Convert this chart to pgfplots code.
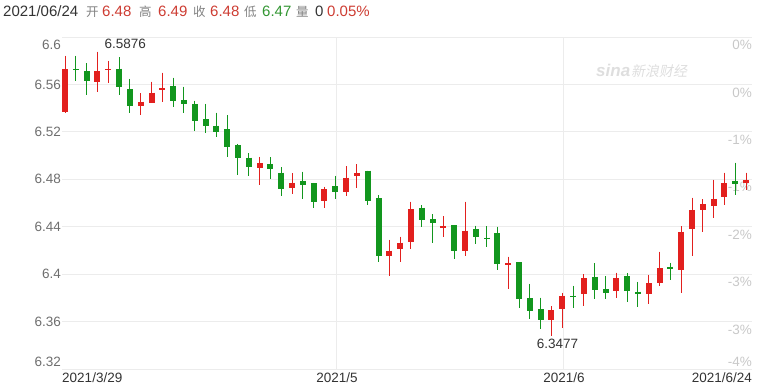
\documentclass[border=0pt]{standalone}
\usepackage{fontspec}
\setmainfont{Liberation Sans}
\newfontfamily\cjk{Noto Sans CJK SC}
\newfontfamily\cjkslant[FakeSlant=0.2]{Noto Sans CJK SC}
\usepackage{pgfplots}
\pgfplotsset{compat=1.18}
\usepackage{pgfplotstable}

\definecolor{upred}{RGB}{226,32,30}
\definecolor{downgreen}{RGB}{18,150,30}
\definecolor{gridgray}{RGB}{236,236,236}
\definecolor{ticktext}{RGB}{110,110,110}
\definecolor{pcttext}{RGB}{200,200,200}
\definecolor{datetext}{RGB}{51,51,51}
\definecolor{hdrred}{RGB}{205,60,50}
\definecolor{hdrgreen}{RGB}{50,150,50}
\definecolor{hdrlabel}{RGB}{130,130,130}
\definecolor{wmark}{RGB}{222,222,222}

% USD/CNY daily candles, 2021-03-29 .. 2021-06-24 (index = weekday number)
% rising days (close > open)
\pgfplotstableread{
i  o      h      l      c
0  6.5370 6.5840 6.5360 6.5730
3  6.5623 6.5876 6.5533 6.5713
4  6.5720 6.5798 6.5615 6.5730
7  6.5418 6.5525 6.5340 6.5454
8  6.5446 6.5623 6.5441 6.5530
9  6.5553 6.5699 6.5454 6.5567
18 6.4898 6.4990 6.4752 6.4935
21 6.4724 6.4850 6.4676 6.4771
24 6.4619 6.4737 6.4560 6.4718
26 6.4690 6.4912 6.4659 6.4813
27 6.4830 6.4926 6.4729 6.4850
30 6.4153 6.4288 6.3984 6.4198
31 6.4210 6.4316 6.4105 6.4265
32 6.4274 6.4611 6.4210 6.4549
35 6.4387 6.4490 6.4311 6.4406
37 6.4195 6.4611 6.4153 6.4366
41 6.4077 6.4147 6.3875 6.4091
45 6.3613 6.3731 6.3477 6.3698
46 6.3703 6.3843 6.3548 6.3818
48 6.3830 6.3999 6.3734 6.3965
51 6.3858 6.4012 6.3801 6.3965
54 6.3833 6.3993 6.3748 6.3923
55 6.3928 6.4189 6.3900 6.4049
57 6.4035 6.4406 6.3843 6.4358
58 6.4378 6.4645 6.4156 6.4541
59 6.4541 6.4631 6.4358 6.4589
60 6.4575 6.4794 6.4471 6.4634
61 6.4653 6.4856 6.4583 6.4766
63 6.4770 6.4856 6.4710 6.4792
}\upcandles

% falling days (close < open)
\pgfplotstableread{
i  o      h      l      c
1  6.5730 6.5840 6.5630 6.5720
2  6.5713 6.5778 6.5511 6.5631
5  6.5733 6.5829 6.5511 6.5576
6  6.5559 6.5646 6.5356 6.5418
10 6.5587 6.5657 6.5412 6.5460
11 6.5469 6.5581 6.5362 6.5432
12 6.5432 6.5463 6.5210 6.5294
13 6.5306 6.5435 6.5188 6.5249
14 6.5252 6.5362 6.5154 6.5199
15 6.5224 6.5340 6.4985 6.5070
16 6.5089 6.5098 6.4836 6.4977
17 6.4982 6.5019 6.4828 6.4906
19 6.4929 6.4985 6.4800 6.4887
20 6.4856 6.4901 6.4659 6.4716
22 6.4786 6.4864 6.4631 6.4749
23 6.4766 6.4770 6.4560 6.4611
25 6.4743 6.4828 6.4631 6.4690
28 6.4872 6.4874 6.4583 6.4617
29 6.4640 6.4667 6.4105 6.4153
33 6.4560 6.4583 6.4395 6.4457
34 6.4463 6.4507 6.4265 6.4429
36 6.4414 6.4414 6.4125 6.4195
38 6.4378 6.4409 6.4254 6.4316
39 6.4307 6.4406 6.4226 6.4296
40 6.4344 6.4400 6.4035 6.4083
42 6.4100 6.4100 6.3712 6.3790
43 6.3796 6.3917 6.3622 6.3689
44 6.3706 6.3801 6.3537 6.3613
47 6.3818 6.3900 6.3717 6.3807
49 6.3978 6.4091 6.3790 6.3866
50 6.3875 6.3984 6.3790 6.3838
52 6.3984 6.4007 6.3768 6.3858
53 6.3852 6.3934 6.3726 6.3833
56 6.4063 6.4096 6.3950 6.4041
62 6.4786 6.4940 6.4667 6.4760
}\downcandles

\tikzset{
  lbl/.style={inner sep=0pt, font=\fontsize{13.5bp}{16bp}\selectfont},
  hdr/.style={inner sep=0pt, anchor=base west, font=\fontsize{15bp}{18bp}\selectfont},
  hdrcn/.style={inner sep=0pt, anchor=base west, text=hdrlabel, font=\cjk\fontsize{12.5bp}{15bp}\selectfont},
}

% one stroke per candle: a vertical error bar with no marks at either end
\pgfplotsset{
  candle/.style={only marks, mark=*, mark size=0pt,
    mark options={draw=none, fill=none},
    error bars/.cd, y dir=minus, y explicit, error mark=none,
    error bar style={line width=#1, line cap=butt}},
}

\begin{document}
\begin{tikzpicture}
\useasboundingbox (0,0) rectangle (760bp,385bp);

% quote header
\node[hdr, text=datetext] at (3bp,368bp) {2021/06/24};
\node[hdrcn] at (86bp,368bp) {开};
\node[hdr, text=hdrred] at (102bp,368bp) {6.48};
\node[hdrcn] at (139bp,368bp) {高};
\node[hdr, text=hdrred] at (158bp,368bp) {6.49};
\node[hdrcn] at (193bp,368bp) {收};
\node[hdr, text=hdrred] at (210bp,368bp) {6.48};
\node[hdrcn] at (244bp,368bp) {低};
\node[hdr, text=hdrgreen] at (262bp,368bp) {6.47};
\node[hdrcn] at (296bp,368bp) {量};
\node[hdr, text=datetext] at (315bp,368bp) {0};
\node[hdr, text=hdrred] at (327bp,368bp) {0.05\%};

% watermark
\node[anchor=west, inner sep=0pt, text=wmark] at (596bp,314bp)
  {{\fontsize{17bp}{17bp}\selectfont\bfseries\itshape sina}\hspace{1bp}{\cjkslant\fontsize{14bp}{14bp}\selectfont 新浪财经}};

\begin{axis}[
  at={(62bp,16bp)}, anchor=south west,
  width=690bp, height=332bp, scale only axis,
  xmin=-0.28, xmax=63.55, ymin=6.32, ymax=6.60,
  axis line style={draw=none},
  major tick length=0pt,
  xtick={25.15,46.15}, xticklabels={},
  ytick={6.32,6.36,6.40,6.44,6.48,6.52,6.56,6.60}, yticklabels={},
  grid=major, major grid style={gridgray, line width=0.9bp},
  clip=false,
]

% price axis (left)
\node[lbl, anchor=east, text=ticktext] at (axis cs:-0.28,6.60) [xshift=-1bp, yshift=-8bp] {6.6};
\node[lbl, anchor=east, text=ticktext] at (axis cs:-0.28,6.56) [xshift=-1bp] {6.56};
\node[lbl, anchor=east, text=ticktext] at (axis cs:-0.28,6.52) [xshift=-1bp] {6.52};
\node[lbl, anchor=east, text=ticktext] at (axis cs:-0.28,6.48) [xshift=-1bp] {6.48};
\node[lbl, anchor=east, text=ticktext] at (axis cs:-0.28,6.44) [xshift=-1bp] {6.44};
\node[lbl, anchor=east, text=ticktext] at (axis cs:-0.28,6.40) [xshift=-1bp] {6.4};
\node[lbl, anchor=east, text=ticktext] at (axis cs:-0.28,6.36) [xshift=-1bp] {6.36};
\node[lbl, anchor=east, text=ticktext] at (axis cs:-0.28,6.32) [xshift=-1bp, yshift=7bp] {6.32};

% change axis (right)
\node[lbl, anchor=east, text=pcttext] at (axis cs:63.55,6.60) [yshift=-8bp] {0\%};
\node[lbl, anchor=east, text=pcttext] at (axis cs:63.55,6.56) [yshift=-8bp] {0\%};
\node[lbl, anchor=east, text=pcttext] at (axis cs:63.55,6.52) [yshift=-8bp] {-1\%};
\node[lbl, anchor=east, text=pcttext] at (axis cs:63.55,6.48) [yshift=-8bp] {-1\%};
\node[lbl, anchor=east, text=pcttext] at (axis cs:63.55,6.44) [yshift=-8bp] {-2\%};
\node[lbl, anchor=east, text=pcttext] at (axis cs:63.55,6.40) [yshift=-8bp] {-3\%};
\node[lbl, anchor=east, text=pcttext] at (axis cs:63.55,6.36) [yshift=-8bp] {-3\%};
\node[lbl, anchor=east, text=pcttext] at (axis cs:63.55,6.32) [yshift=7bp] {-4\%};

% date axis
\node[lbl, anchor=west, text=datetext] at (axis cs:0,6.32) [xshift=-3bp, yshift=-8.5bp] {2021/3/29};
\node[lbl, text=datetext] at (axis cs:25.15,6.32) [yshift=-8.5bp] {2021/5};
\node[lbl, text=datetext] at (axis cs:46.15,6.32) [yshift=-8.5bp] {2021/6};
\node[lbl, anchor=east, text=datetext] at (axis cs:63,6.32) [xshift=6bp, yshift=-8.5bp] {2021/6/24};

% wicks
\addplot[upred, candle=1bp]
  table[x=i, y=h, y error minus expr=\thisrow{h}-\thisrow{l}] {\upcandles};
\addplot[downgreen, candle=1bp]
  table[x=i, y=h, y error minus expr=\thisrow{h}-\thisrow{l}] {\downcandles};

% bodies
\addplot[upred, candle=6bp]
  table[x=i, y=c, y error minus expr=\thisrow{c}-\thisrow{o}] {\upcandles};
\addplot[downgreen, candle=6bp]
  table[x=i, y=o, y error minus expr=\thisrow{o}-\thisrow{c}] {\downcandles};

% extremes
\node[lbl, anchor=west, text=datetext] at (axis cs:3,6.5876) [xshift=7bp, yshift=8bp] {6.5876};
\node[lbl, text=datetext] at (axis cs:45,6.3477) [xshift=6bp, yshift=-7.5bp] {6.3477};
\end{axis}
\end{tikzpicture}
\end{document}
